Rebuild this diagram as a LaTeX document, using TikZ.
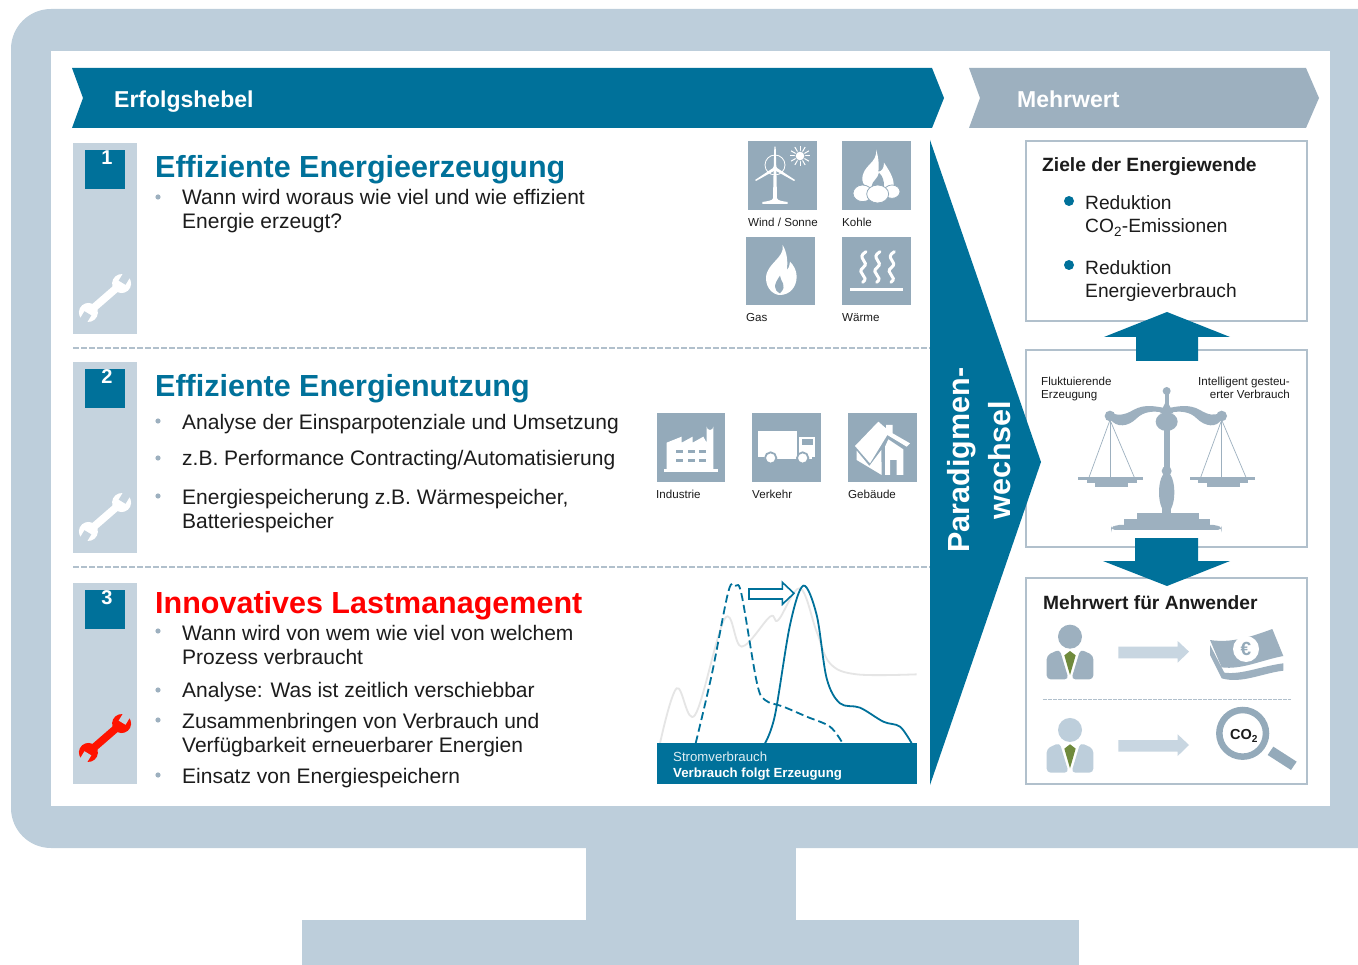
\documentclass[tikz,border=0pt]{standalone}
\usepackage{fontspec}
\setmainfont{Liberation Sans}
\definecolor{mon}{HTML}{BDCEDB}
\definecolor{strip}{HTML}{C5D3DE}
\definecolor{teal}{HTML}{00719A}
\definecolor{tile}{HTML}{94AABA}
\definecolor{hdr}{HTML}{9DB0BF}
\definecolor{ink}{HTML}{1C1C1C}
\definecolor{arrowlt}{HTML}{C8D6E1}
\definecolor{tie}{HTML}{6F8A3C}
\tikzset{
  x=1pt,y=-1pt,
  txt/.style={anchor=base west,inner sep=0pt,text=ink},
  body/.style={txt,font=\fontsize{21}{25}\selectfont},
  head/.style={txt,text=teal,font=\fontsize{30.5}{36}\selectfont\bfseries},
  hdrtext/.style={txt,text=white,font=\fontsize{23}{27}\selectfont\bfseries},
  small/.style={txt,text=ink,font=\fontsize{11.6}{14}\selectfont},
  rbody/.style={txt,font=\fontsize{19.2}{24}\selectfont},
  rhead/.style={txt,text=ink,font=\fontsize{19.2}{24}\selectfont\bfseries},
  num/.style={anchor=base,inner sep=0pt,text=white,font=\fontsize{20}{24}\selectfont\bfseries},
  panel/.style={draw=hdr!80,line width=1.6pt,fill=white},
  sep/.style={draw=hdr!80,line width=1.1pt,dash pattern=on 6pt off 2pt},
}
\newcommand\mywrench[4]{%
 \begin{scope}[shift={(#1,#2)},rotate=41]
  \fill[#3] (-22,-3.8) rectangle (22,3.8);
  \fill[#3] (-22,0) circle (9.5);
  \fill[#3] (22,0) circle (9.5);
  \begin{scope}[rotate around={18:(22,0)}]\fill[#4] (23,-4) rectangle (33,4);\end{scope}
  \begin{scope}[rotate around={18:(-22,0)}]\fill[#4] (-33,-4) rectangle (-23,4);\end{scope}
 \end{scope}}
\newcommand\myperson[2]{%
 \begin{scope}[shift={(1025,#1)},scale=1/3]
  \fill[#2] (135,170) circle (36);
  \fill[#2,rounded corners=4pt] (65,298) -- (65,226) -- (104,208) -- (131,298) -- cycle;
  \fill[#2,rounded corners=4pt] (205,298) -- (205,226) -- (166,208) -- (139,298) -- cycle;
  \fill[tie] (118,226) -- (135,213) -- (152,226) -- (135,285) -- cycle;
 \end{scope}}
\begin{document}
\begin{tikzpicture}
\useasboundingbox (0,0) rectangle (1358,965);
\clip (0,0) rectangle (1358,965);
% monitor
\fill[mon,rounded corners=40pt] (11,9) rectangle (1400,848);
\fill[mon] (586,840) rectangle (796,925);
\fill[mon] (302,920) rectangle (1079,965);
\fill[white] (51,51) rectangle (1330,806);
% headers
\fill[teal] (72,68) -- (932,68) -- (944,98) -- (932,128) -- (72,128) -- (83,98) -- cycle;
\fill[hdr] (969,68) -- (1306,68) -- (1319,98) -- (1306,128) -- (969,128) -- (980,98) -- cycle;
\node[hdrtext] (h1) at (114,108) {Erfolgshebel};
\node[hdrtext] (h2) at (1017,108) {Mehrwert};
% strips
\fill[strip] (73,143) rectangle (137,334);
\fill[strip] (73,362) rectangle (137,553);
\fill[strip] (73,583) rectangle (137,784);
\fill[teal] (85,150) rectangle (125,189);
\fill[teal] (85,369) rectangle (125,408);
\fill[teal] (85,590) rectangle (125,629);
\node[num] (n1) at (107,165) {1};
\node[num] (n2) at (107,384) {2};
\node[num] (n3) at (107,604) {3};
\mywrench{105}{298}{white}{strip}
\mywrench{105}{517}{white}{strip}
\mywrench{105}{738}{red!85!orange}{strip}
\draw[sep] (73,348) -- (930,348);
\draw[sep] (73,567) -- (930,567);
% row texts
\node[head] (t1) at (155,178) {Effiziente Energieerzeugung};
\fill[hdr] (158,197) circle (2.6);
\node[body] (t1a) at (182,205) {Wann wird woraus wie viel und wie effizient};
\node[body] (t1b) at (182,229) {Energie erzeugt?};
\node[head] (t2) at (155,397) {Effiziente Energienutzung};
\fill[hdr] (158,421) circle (2.6);
\fill[hdr] (158,458) circle (2.6);
\fill[hdr] (158,496) circle (2.6);
\node[body] (t2a) at (182,430) {Analyse der Einsparpotenziale und Umsetzung};
\node[body] (t2b) at (182,465) {z.B. Performance Contracting/Automatisierung};
\node[body] (t2c) at (182,504) {Energiespeicherung z.B. Wärmespeicher,};
\node[body] (t2d) at (182,528) {Batteriespeicher};
\node[head,text=red] (t3) at (155,613) {Innovatives Lastmanagement};
\fill[hdr] (158,631) circle (2.6);
\fill[hdr] (158,690) circle (2.6);
\fill[hdr] (158,720) circle (2.6);
\fill[hdr] (158,775) circle (2.6);
\node[body] (t3a) at (182,640) {Wann wird von wem wie viel von welchem};
\node[body] (t3b) at (182,664) {Prozess verbraucht};
\node[body] (t3c) at (182,697) {Analyse: Was ist zeitlich verschiebbar};
\node[body] (t3d) at (182,728) {Zusammenbringen von Verbrauch und};
\node[body] (t3e) at (182,752) {Verfügbarkeit erneuerbarer Energien};
\node[body] (t3f) at (182,783) {Einsatz von Energiespeichern};
% icon tiles row 1
\begin{scope}[shift={(730,130)},scale=1/3]
 \fill[tile] (54,34) rectangle (262,241);
 \fill[tile] (336,34) rectangle (544,241);
 \fill[tile] (48,320) rectangle (255,526);
 \fill[tile] (336,320) rectangle (544,526);
 % wind
 \draw[white,line width=0.8pt] (135,105) circle (30);
 \fill[white] (131,115) -- (133,50) -- (137,50) -- (139,115) -- cycle;
 \fill[white] (131,115) -- (129,205) .. controls (128,212) and (110,214) .. (97,216) -- (97,222) -- (173,222) -- (173,216) .. controls (160,214) and (142,212) .. (141,205) -- (139,115) -- cycle;
 \fill[white] (138,112) -- (195,150) -- (192,153) -- (133,120) -- cycle;
 \fill[white] (132,112) -- (75,150) -- (78,153) -- (137,120) -- cycle;
 \fill[white] (135,115) circle (6);
 \foreach \a in {0,30,...,330} {\draw[white,line width=1pt] (210,78) -- ++(\a:31);}
 \fill[tile] (210,78) circle (16);
 \fill[white] (210,78) circle (13);
 % coal
 \fill[white] (438,58) .. controls (445,100) and (395,105) .. (397,150) .. controls (398,165) and (410,172) .. (430,172) -- (490,172) .. controls (495,150) and (480,125) .. (462,98) .. controls (462,115) and (455,125) .. (445,125) .. controls (448,100) and (445,80) .. (438,58) -- cycle;
 \fill[tile] (425,168) .. controls (425,155) and (445,145) .. (447,128) .. controls (460,140) and (462,155) .. (462,168) -- cycle;
 \fill[white,draw=tile,line width=0.8pt] (398,190) ellipse (29 and 25);
 \fill[white,draw=tile,line width=0.8pt] (486,185) ellipse (24 and 20);
 \fill[white,draw=tile,line width=0.8pt] (443,192) ellipse (33 and 27);
 % gas
 \fill[white] (158,345) .. controls (165,385) and (108,400) .. (108,445) .. controls (108,475) and (130,495) .. (150,495) .. controls (180,495) and (200,470) .. (200,440) .. controls (200,420) and (190,405) .. (180,395) .. controls (178,410) and (175,418) .. (170,420) .. controls (175,395) and (170,365) .. (158,345) -- cycle;
 \fill[tile] (150,490) .. controls (130,480) and (130,465) .. (150,437) .. controls (150,455) and (175,465) .. (150,490) -- cycle;
 % heat
 \foreach \x in {400,442,485} {
  \draw[white,line width=3pt,line cap=round] (\x+8,365) .. controls (\x-25,385) and (\x+22,395) .. (\x,412) .. controls (\x-25,430) and (\x+22,440) .. (\x-2,457);
 }
 \fill[white] (360,473) rectangle (518,484);
\end{scope}
\node[small] (l1) at (748,227) {Wind / Sonne};
\node[small] (l2) at (842,227) {Kohle};
\node[small] (l3) at (746,322) {Gas};
\node[small] (l4) at (842,322) {Wärme};
% icon tiles row 2
\begin{scope}[shift={(640,400)},scale=1/3]
 \fill[tile] (50,40) rectangle (256,246);
 \fill[tile] (336,40) rectangle (544,246);
 \fill[tile] (623,40) rectangle (831,246);
 % factory
 \fill[white] (80,207) -- (80,128) -- (125,110) -- (125,128) -- (158,110) -- (158,128) -- (190,110) -- (200,128) -- (200,80) arc[start angle=180,end angle=0,radius=10] -- (220,207) -- cycle;
 \fill[white] (72,207) rectangle (235,216);
 \foreach \y in {150,177} {\foreach \x in {108,144,178} {\fill[tile] (\x,\y) rectangle (\x+20,\y+9);}}
 % truck
 \fill[white] (355,92) rectangle (472,170);
 \fill[white] (478,110) -- (525,110) -- (525,170) -- (478,170) -- cycle;
 \fill[tile] (487,117) rectangle (518,136);
 \fill[white] (372,170) rectangle (515,178);
 \fill[white,draw=tile,line width=1.8pt] (392,174) circle (17);
 \fill[white,draw=tile,line width=1.8pt] (488,174) circle (17);
 % house
 \fill[white] (645,138) -- (715,65) -- (738,85) -- (738,75) -- (758,75) -- (758,100) -- (810,130) -- (800,140) -- (742,105) -- (690,190) -- cycle;
 \fill[white] (650,152) -- (688,198) -- (724,150) -- (725,225) -- (650,180) -- cycle;
 \fill[white] (735,225) -- (735,140) -- (745,118) -- (790,148) -- (790,225) -- (770,225) -- (770,180) -- (750,180) -- (750,225) -- cycle;
\end{scope}
\node[small] (l5) at (656,499) {Industrie};
\node[small] (l6) at (752,499) {Verkehr};
\node[small] (l7) at (848,499) {Gebäude};
% chart
\begin{scope}[shift={(650,575)},scale=1/3]
 \draw[black!10,line width=1.8pt] plot[smooth,tension=0.6] coordinates {(30,505) (80,340) (135,420) (225,130) (275,215) (360,125) (385,135) (450,40) (500,170) (540,265) (620,298) (800,298)};
 \draw[teal,line width=1.8pt,dash pattern=on 8pt off 4pt] plot[smooth,tension=0.55] coordinates {(137,505) (185,300) (235,50) (257,32) (275,60) (320,320) (345,375) (400,395) (470,425) (540,455) (578,505)};
 \draw[teal,line width=1.8pt] plot[smooth,tension=0.55] coordinates {(345,505) (375,420) (420,150) (460,32) (500,120) (530,310) (570,385) (630,398) (700,440) (750,455) (785,505)};
 \draw[teal,fill=white,line width=1.6pt] (297,42) -- (397,42) -- (397,22) -- (432,55) -- (397,88) -- (397,72) -- (297,72) -- cycle;
 \fill[teal] (20,505) rectangle (800,627);
\end{scope}
\node[small,text=white!88!teal,font=\fontsize{13.2}{16}\selectfont] (c1) at (673,761) {Stromverbrauch};
\node[small,text=white,font=\fontsize{13.2}{16}\selectfont\bfseries] (c2) at (673,777) {Verbrauch folgt Erzeugung};
% right panels
\draw[panel] (1026,141) rectangle (1307,321);
\draw[panel] (1026,350) rectangle (1307,547);
\draw[panel] (1026,578) rectangle (1307,784);
% big arrow
\fill[teal] (930,140) -- (1041,462) -- (930,785) -- cycle;
\node[anchor=base,inner sep=0pt,text=white,rotate=90,font=\fontsize{30.5}{34}\selectfont\bfseries] (p1) at (969,460) {Paradigmen-};
\node[anchor=base,inner sep=0pt,text=white,rotate=90,font=\fontsize{30.5}{34}\selectfont\bfseries] (p2) at (1010,460) {wechsel};
\fill[teal] (1104,337) -- (1167,312) -- (1230,337) -- (1198,337) -- (1198,361) -- (1136,361) -- (1136,337) -- cycle;
\fill[teal] (1135,538) -- (1198,538) -- (1198,561) -- (1230,561) -- (1167,586) -- (1103,561) -- (1135,561) -- cycle;
\node[rhead] (r1) at (1042,172) {Ziele der Energiewende};
\fill[teal] (1069,201) circle (5);
\fill[teal] (1069,265) circle (5);
\node[rbody] (r1a) at (1085,210) {Reduktion};
\node[rbody] (r1b) at (1085,233) {CO\textsubscript{2}-Emissionen};
\node[rbody] (r1c) at (1085,275) {Reduktion};
\node[rbody] (r1d) at (1085,298) {Energieverbrauch};
\node[small] (s1) at (1041,386) {Fluktuierende};
\node[small] (s2) at (1041,399) {Erzeugung};
\node[small,anchor=base east] (s3) at (1290,386) {Intelligent gesteu-};
\node[small,anchor=base east] (s4) at (1290,399) {erter Verbrauch};
% scales
\begin{scope}[shift={(1025,345)},scale=1/3]
 \fill[hdr] (425,138) circle (12);
 \fill[hdr] (419,140) rectangle (431,190);
 \fill[hdr] (425,165) -- (445,205) -- (405,205) -- cycle;
 \fill[hdr] (255,213) circle (16);
 \fill[hdr] (590,213) circle (16);
 \fill[hdr] (255,222) .. controls (275,250) and (310,245) .. (335,220) .. controls (355,200) and (385,195) .. (425,205) .. controls (465,195) and (495,200) .. (515,220) .. controls (540,245) and (575,250) .. (590,222) -- (590,200) .. controls (570,215) and (550,210) .. (525,195) .. controls (490,175) and (455,185) .. (425,190) .. controls (395,185) and (360,175) .. (325,195) .. controls (300,210) and (275,215) .. (255,200) -- cycle;
 \fill[hdr] (425,230) ellipse (33 and 28);
 \fill[hdr] (416,240) rectangle (434,375);
 \fill[hdr] (425,378) circle (15);
 \fill[hdr] (425,442) ellipse (23 and 60);
 \fill[hdr] (412,490) rectangle (438,510);
 \fill[hdr] (335,505) rectangle (522,522);
 \fill[hdr] (298,522) rectangle (555,540);
 \fill[hdr,rounded corners=4pt] (258,555) -- (258,550) -- (270,540) -- (578,540) -- (590,550) -- (590,555) -- cycle;
 \foreach \dx in {0,335} {
  \begin{scope}[xshift=\dx pt]
   \draw[hdr,line width=0.7pt] (192,397) -- (255,225) -- (328,397);
   \draw[hdr,line width=0.7pt] (255,225) -- (255,397);
   \fill[hdr] (160,397) rectangle (355,405);
   \fill[hdr] (185,405) rectangle (335,415);
   \fill[hdr] (210,415) rectangle (310,425);
  \end{scope}
 }
\end{scope}
\node[rhead] (r3) at (1043,609) {Mehrwert für Anwender};
\draw[sep,line width=0.8pt,dash pattern=on 4pt off 1pt] (1043,699) -- (1291,699);
\myperson{580}{hdr}
\myperson{673.3}{mon}
\begin{scope}[shift={(1025,580)},scale=1/3]
 \fill[arrowlt] (280,200) -- (458,200) -- (458,183) -- (492,215) -- (458,248) -- (458,235) -- (280,235) -- cycle;
 \fill[arrowlt] (280,480) -- (458,480) -- (458,463) -- (492,495) -- (458,528) -- (458,515) -- (280,515) -- cycle;
 % money
 \fill[hdr] (555,180) .. controls (620,190) and (680,170) .. (742,147) -- (775,228) .. controls (710,240) and (650,270) .. (590,262) -- cycle;
 \fill[hdr] (555,195) -- (555,225) -- (590,295) .. controls (650,312) and (710,280) .. (775,272) -- (775,250) .. controls (710,258) and (650,285) .. (598,278) -- cycle;
 \fill[white] (663,207) circle (39);
 % magnifier
 \draw[tile,line width=6.5pt] (653,460) circle (70);
 \fill[tile] (745,500) -- (815,545) -- (798,570) -- (728,525) -- cycle;
\end{scope}
\node[anchor=center,inner sep=0pt,text=tile,font=\fontsize{19}{22}\selectfont\bfseries] (eur) at (1246,649) {€};
\node[anchor=center,inner sep=0pt,text=ink,font=\fontsize{14.5}{18}\selectfont\bfseries] (co) at (1244,736) {CO\textsubscript{2}};
\end{tikzpicture}
\end{document}
